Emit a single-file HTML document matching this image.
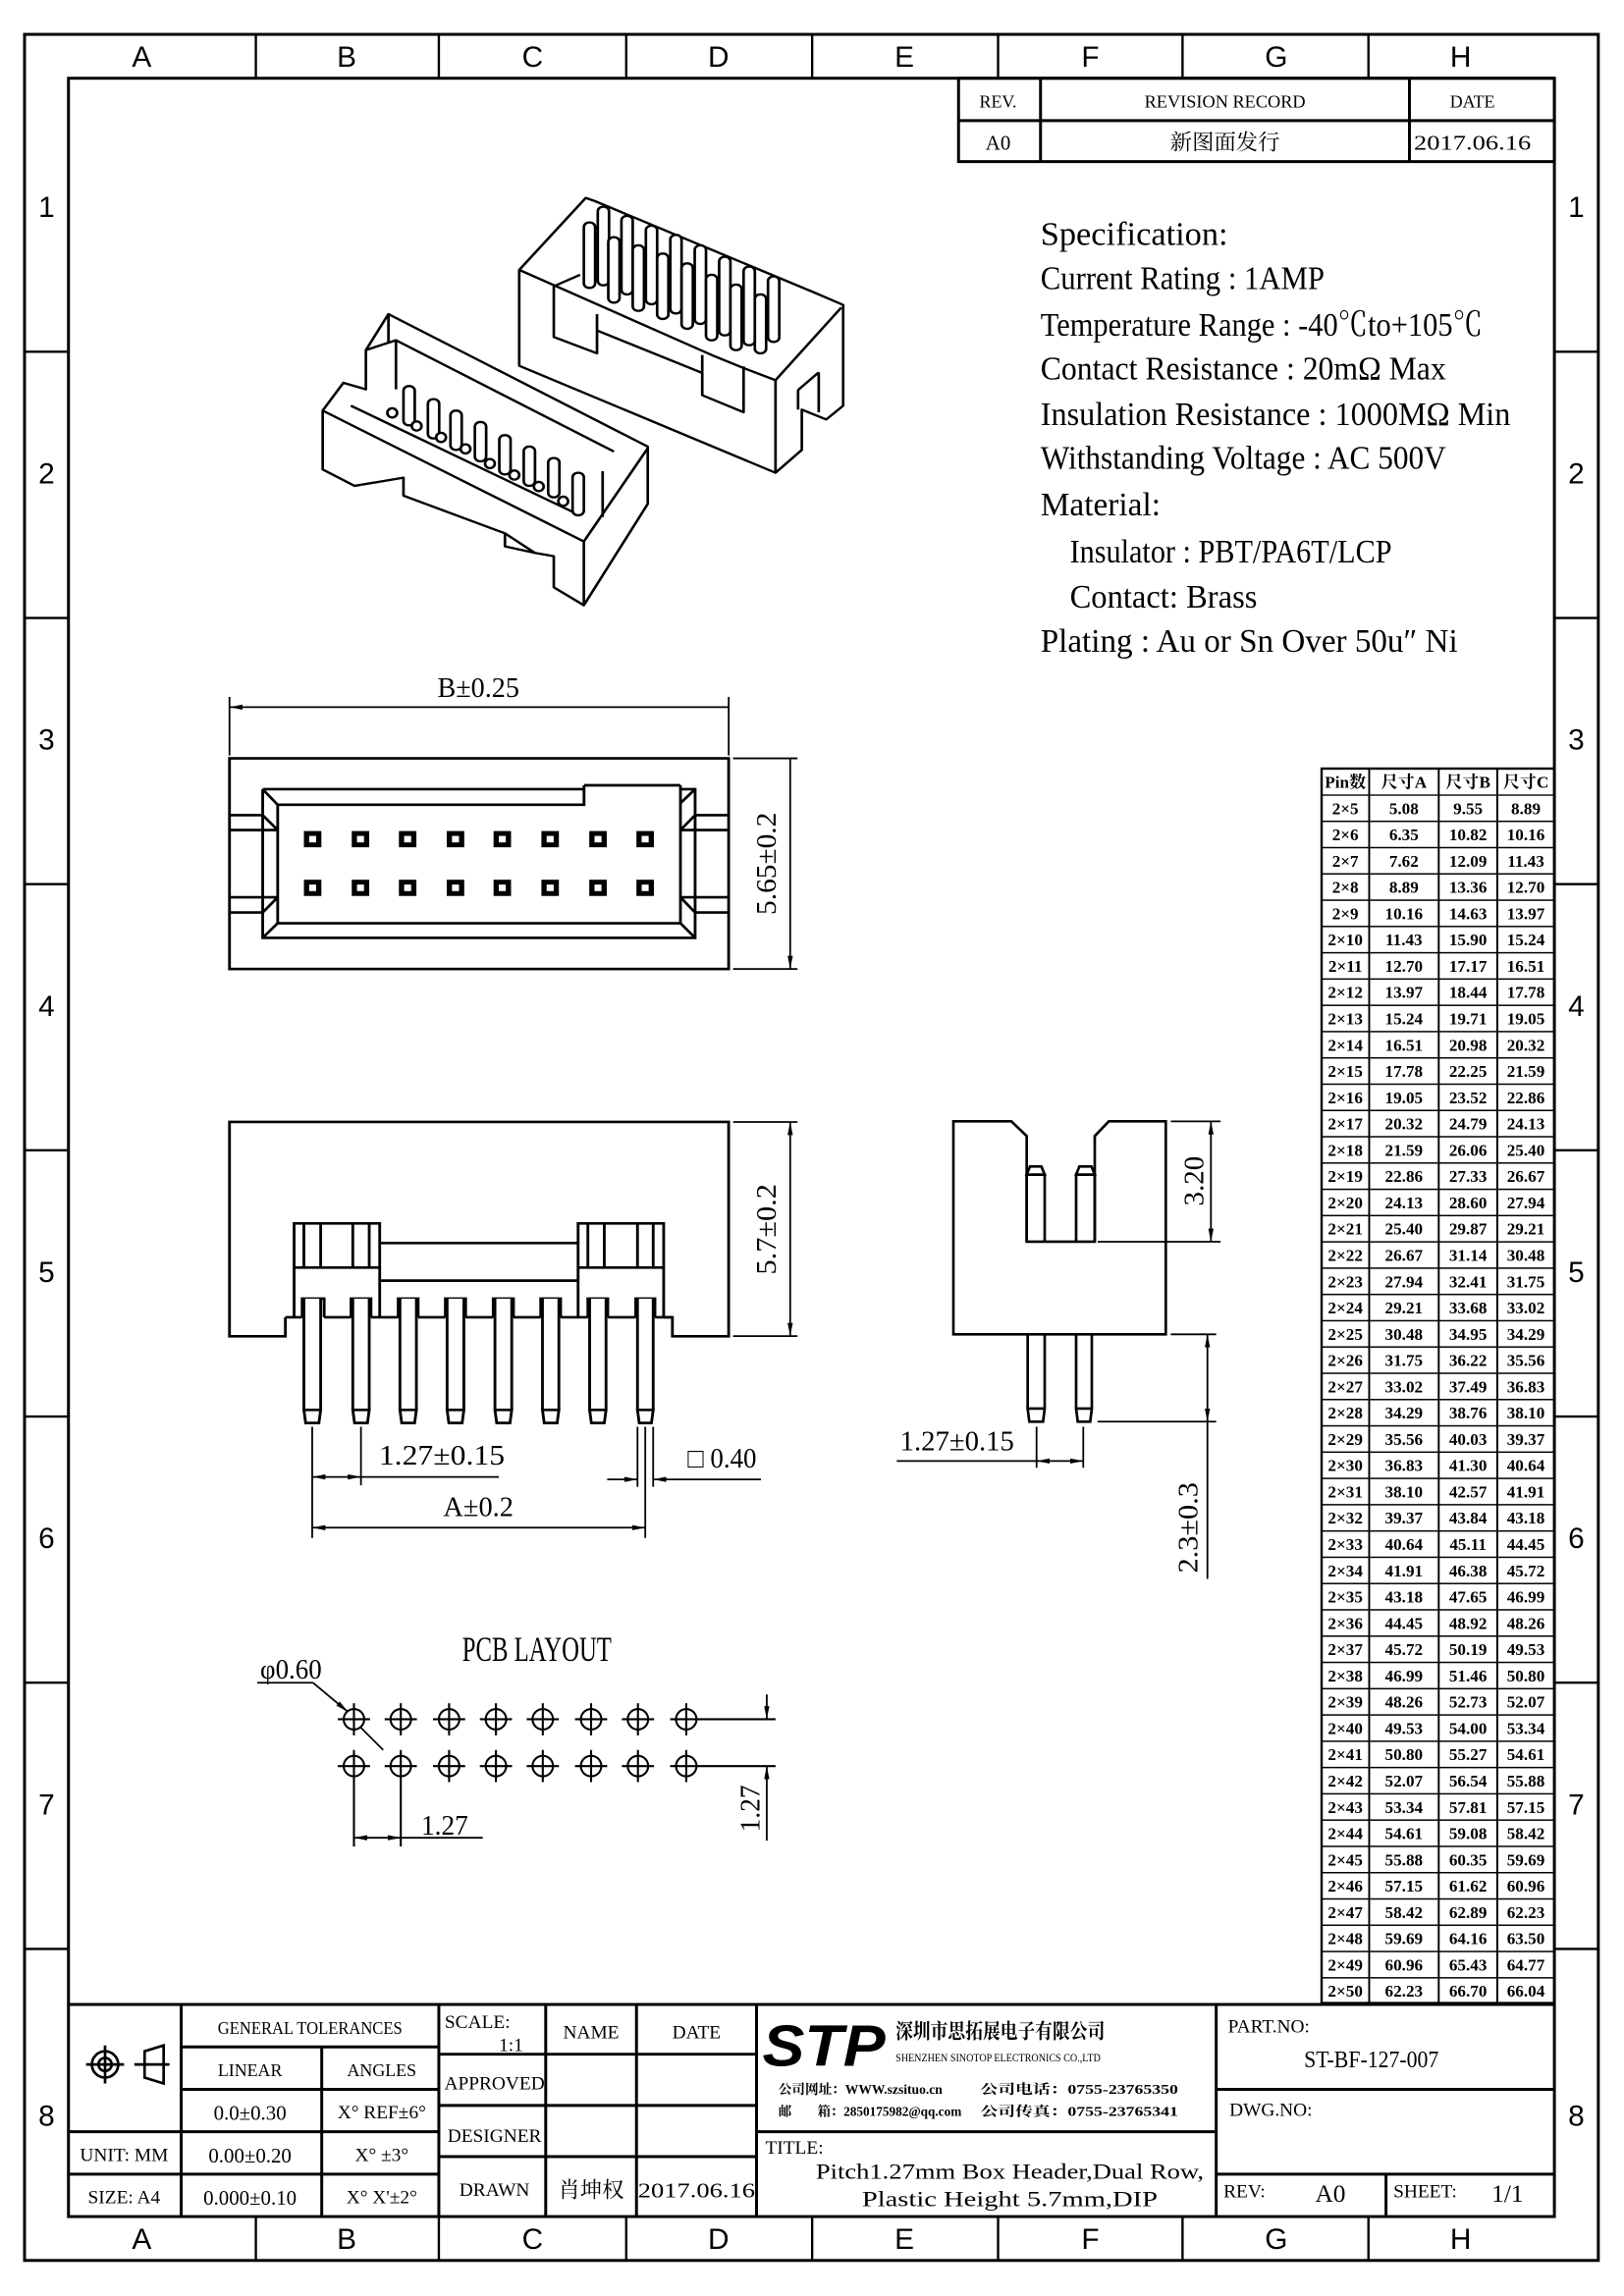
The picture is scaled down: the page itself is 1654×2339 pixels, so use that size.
<!DOCTYPE html>
<html><head><meta charset="utf-8"><style>
html,body{margin:0;padding:0;background:#fff}
svg{display:block}
text{font-family:"Liberation Serif","Noto Serif CJK SC",serif;fill:#000}
.s{font-family:"Liberation Sans","Noto Sans CJK SC",sans-serif}
.c{text-anchor:middle}
</style></head><body>
<svg width="1654" height="2339" viewBox="0 0 1654 2339" xmlns="http://www.w3.org/2000/svg">
<defs>
<marker id="a" viewBox="0 0 10 4" refX="10" refY="2" markerWidth="9" markerHeight="3.6" markerUnits="userSpaceOnUse" orient="auto-start-reverse"><path d="M0,0 L10,2 L0,4 z" fill="#000"/></marker>
<pattern id="rows" x="0" y="542.6" width="200" height="17.97" patternUnits="userSpaceOnUse"><rect x="0" y="0" width="200" height="1" fill="#000"/></pattern>
</defs>
<rect width="1654" height="2339" fill="#fff"/>
<g transform="translate(25 35) scale(1.491 1.49) translate(-17 -23)" fill="none" stroke="#000" stroke-width="1.2">
<!-- borders -->
<rect x="17" y="23" width="1075" height="1522" stroke-width="2"/>
<rect x="47" y="53" width="1015" height="1462" stroke-width="2"/>
<path stroke-width="1.6" d="M175 23V53M300 23V53M428 23V53M555 23V53M682 23V53M808 23V53M935 23V53
M175 1515V1545M300 1515V1545M428 1515V1545M555 1515V1545M682 1515V1545M808 1515V1545M935 1515V1545
M17 240H47M17 422H47M17 604H47M17 786H47M17 968H47M17 1150H47M17 1332H47
M1062 240H1092M1062 422H1092M1062 604H1092M1062 786H1092M1062 968H1092M1062 1150H1092M1062 1332H1092"/>
<g stroke="none" class="s" font-size="20">
<text class="c s" x="97" y="45">A</text><text class="c s" x="237" y="45">B</text><text class="c s" x="364" y="45">C</text><text class="c s" x="491" y="45">D</text><text class="c s" x="618" y="45">E</text><text class="c s" x="745" y="45">F</text><text class="c s" x="872" y="45">G</text><text class="c s" x="998" y="45">H</text>
<text class="c s" x="97" y="1537">A</text><text class="c s" x="237" y="1537">B</text><text class="c s" x="364" y="1537">C</text><text class="c s" x="491" y="1537">D</text><text class="c s" x="618" y="1537">E</text><text class="c s" x="745" y="1537">F</text><text class="c s" x="872" y="1537">G</text><text class="c s" x="998" y="1537">H</text>
<text class="c s" x="32" y="148">1</text><text class="c s" x="32" y="330">2</text><text class="c s" x="32" y="512">3</text><text class="c s" x="32" y="694">4</text><text class="c s" x="32" y="876">5</text><text class="c s" x="32" y="1058">6</text><text class="c s" x="32" y="1240">7</text><text class="c s" x="32" y="1453">8</text>
<text class="c s" x="1077" y="148">1</text><text class="c s" x="1077" y="330">2</text><text class="c s" x="1077" y="512">3</text><text class="c s" x="1077" y="694">4</text><text class="c s" x="1077" y="876">5</text><text class="c s" x="1077" y="1058">6</text><text class="c s" x="1077" y="1240">7</text><text class="c s" x="1077" y="1453">8</text>
</g>

<!-- revision table -->
<rect x="655" y="53" width="407" height="57" stroke-width="2"/>
<path stroke-width="2" d="M655 82H1062M711 53V110M963 53V110"/>
<g stroke="none" font-size="12">
<text class="c" x="682" y="73">REV.</text><text class="c" x="837" y="73" textLength="110" lengthAdjust="spacingAndGlyphs">REVISION RECORD</text><text class="c" x="1006" y="73">DATE</text>
<text class="c" x="682" y="102" font-size="14">A0</text><text class="c" x="837" y="102" font-size="15">新图面发行</text><text class="c" x="1006" y="102" font-size="14" textLength="80" lengthAdjust="spacingAndGlyphs">2017.06.16</text>
</g>

<!-- spec -->
<g stroke="none" font-size="23">
<text x="711" y="167" textLength="128" lengthAdjust="spacingAndGlyphs">Specification:</text>
<text x="711" y="197" textLength="194" lengthAdjust="spacingAndGlyphs">Current Rating : 1AMP</text>
<text x="711" y="229" textLength="302" lengthAdjust="spacingAndGlyphs">Temperature Range : -40℃to+105℃</text>
<text x="711" y="259" textLength="277" lengthAdjust="spacingAndGlyphs">Contact Resistance : 20mΩ Max</text>
<text x="711" y="290" textLength="321" lengthAdjust="spacingAndGlyphs">Insulation Resistance : 1000MΩ Min</text>
<text x="711" y="320" textLength="277" lengthAdjust="spacingAndGlyphs">Withstanding Voltage : AC 500V</text>
<text x="711" y="352" textLength="82" lengthAdjust="spacingAndGlyphs">Material:</text>
<text x="731" y="384" textLength="220" lengthAdjust="spacingAndGlyphs">Insulator : PBT/PA6T/LCP</text>
<text x="731" y="415" textLength="128" lengthAdjust="spacingAndGlyphs">Contact: Brass</text>
<text x="711" y="445" textLength="285" lengthAdjust="spacingAndGlyphs">Plating : Au or Sn Over 50u″ Ni</text>
</g>

<!-- 3D upper connector -->
<g transform="translate(201.4 120.3) scale(0.2567 0.2237)" stroke-width="7" stroke-linejoin="round">
<polygon fill="#fff" points="598,285 775,65 800,75 1385,355 1460,392 1460,700 1415,742 1350,712 1350,835 1280,905 598,578"/>
<path d="M598 285L1110 545M1195 585L1280 622M1280 622V905M1280 622L1455 400M1340 652L1395 598M1340 652V712M1395 598V720M690 335V490L805 540V420M1085 545V668L1195 720V580M805 470L1085 600M690 335L760 300M1110 545L1195 585"/>
<g fill="#fff">
<rect x="807" y="92" width="30" height="240" rx="14"/><rect x="870" y="120" width="30" height="240" rx="14"/><rect x="935" y="150" width="30" height="240" rx="14"/><rect x="1000" y="178" width="30" height="240" rx="14"/><rect x="1065" y="210" width="30" height="240" rx="14"/><rect x="1130" y="245" width="30" height="240" rx="14"/><rect x="1195" y="275" width="30" height="240" rx="14"/><rect x="1260" y="305" width="30" height="200" rx="14"/>
<rect x="770" y="140" width="30" height="200" rx="14"/><rect x="835" y="185" width="30" height="200" rx="14"/><rect x="900" y="210" width="30" height="200" rx="14"/><rect x="965" y="235" width="30" height="200" rx="14"/><rect x="1030" y="265" width="30" height="200" rx="14"/><rect x="1095" y="300" width="30" height="200" rx="14"/><rect x="1160" y="330" width="30" height="200" rx="14"/><rect x="1225" y="360" width="30" height="180" rx="14"/>
</g>
</g>
<!-- 3D lower connector -->
<g transform="translate(201.4 120.3) scale(0.2567 0.2237)" stroke-width="7" stroke-linejoin="round">
<polygon fill="#fff" points="75,715 130,630 190,650 190,530 250,420 940,825 940,1000 770,1310 690,1255 690,1160 640,1150 560,1090 290,975 290,920 160,945 75,895"/>
<path d="M75 715L770 1115M770 1115V1310M770 1115L940 830M150 700L750 1030M270 500L850 840M190 530L270 500V650M250 420V510M820 1040V900M560 1090V1130L640 1150"/>
<g fill="#fff">
<rect x="290" y="640" width="30" height="120" rx="14"/><rect x="355" y="680" width="30" height="120" rx="14"/><rect x="415" y="715" width="30" height="120" rx="14"/><rect x="480" y="750" width="30" height="120" rx="14"/><rect x="545" y="790" width="30" height="120" rx="14"/><rect x="610" y="825" width="30" height="120" rx="14"/><rect x="675" y="860" width="30" height="120" rx="14"/><rect x="740" y="905" width="30" height="130" rx="14"/>
<ellipse cx="260" cy="722" rx="13" ry="14"/><ellipse cx="325" cy="762" rx="13" ry="14"/><ellipse cx="390" cy="797" rx="13" ry="14"/><ellipse cx="455" cy="832" rx="13" ry="14"/><ellipse cx="520" cy="877" rx="13" ry="14"/><ellipse cx="585" cy="912" rx="13" ry="14"/><ellipse cx="650" cy="947" rx="13" ry="14"/><ellipse cx="715" cy="992" rx="13" ry="14"/>
</g>
</g>

<!-- top view -->
<g transform="translate(148.17 509.79) scale(0.2386 0.2219)" stroke-width="8">
<rect x="37" y="37" width="1429" height="649"/>
<path d="M132 132H1052M1052 120H1328M1328 132H1370V590H132V132M175 180H1052V120M1328 120V545H175V180M132 132L175 180M132 590L175 545M1370 132L1328 175M1370 590L1328 545
M37 212H132L175 258M37 258H175M37 465H175M37 512H132L175 465M1466 212H1370L1328 258M1466 258H1328M1466 465H1328M1466 512H1370L1328 465"/>
<g stroke="none">
<g fill="#000">
<rect x="250" y="261" width="50" height="50"/><rect x="387" y="261" width="50" height="50"/><rect x="522" y="261" width="50" height="50"/><rect x="659" y="261" width="50" height="50"/><rect x="793" y="261" width="50" height="50"/><rect x="930" y="261" width="50" height="50"/><rect x="1067" y="261" width="50" height="50"/><rect x="1202" y="261" width="50" height="50"/>
<rect x="250" y="411" width="50" height="50"/><rect x="387" y="411" width="50" height="50"/><rect x="522" y="411" width="50" height="50"/><rect x="659" y="411" width="50" height="50"/><rect x="793" y="411" width="50" height="50"/><rect x="930" y="411" width="50" height="50"/><rect x="1067" y="411" width="50" height="50"/><rect x="1202" y="411" width="50" height="50"/>
</g>
<g fill="#fff">
<rect x="265" y="276" width="20" height="20"/><rect x="402" y="276" width="20" height="20"/><rect x="537" y="276" width="20" height="20"/><rect x="674" y="276" width="20" height="20"/><rect x="808" y="276" width="20" height="20"/><rect x="945" y="276" width="20" height="20"/><rect x="1082" y="276" width="20" height="20"/><rect x="1217" y="276" width="20" height="20"/>
<rect x="265" y="426" width="20" height="20"/><rect x="402" y="426" width="20" height="20"/><rect x="537" y="426" width="20" height="20"/><rect x="674" y="426" width="20" height="20"/><rect x="808" y="426" width="20" height="20"/><rect x="945" y="426" width="20" height="20"/><rect x="1082" y="426" width="20" height="20"/><rect x="1217" y="426" width="20" height="20"/>
</g>
</g>
</g>
<!-- top view dims -->
<path d="M157 476V516M498 476V516M501 518H545M501 662H545"/>
<path d="M157 483H498M540 518V662" marker-start="url(#a)" marker-end="url(#a)"/>
<g stroke="none" font-size="19">
<text class="c" x="327" y="476" textLength="56" lengthAdjust="spacingAndGlyphs">B±0.25</text>
<text class="c" transform="translate(530 590) rotate(-90)" textLength="70" lengthAdjust="spacingAndGlyphs">5.65±0.2</text>
</g>

<!-- side view -->
<g transform="translate(148.17 752.06) scale(0.2386 0.2237)" stroke-width="8" stroke-linejoin="miter">
<path d="M197 662V720H37V65H1466V720H1305V662H1280"/>
<path d="M222 662V375H467V662M222 510H467M250 375V510M298 375V510M390 375V510M437 375V510
M1035 662V375H1280V662M1035 510H1280M1063 375V510M1110 375V510M1205 375V510M1250 375V510
M467 435H1035M467 550H1035
M197 662H245M308 662H385M442 662H520M577 662H655M713 662H792M850 662H928M985 662H1063M1120 662H1200M1255 662H1305"/>
<g fill="#fff">
<path d="M245 662V605H308V662M385 662V605H442V662M520 662V605H577V662M655 662V605H713V662M792 662V605H850V662M928 662V605H985V662M1063 662V605H1120V662M1200 662V605H1255V662"/>
<path d="M250 605V945H298V605M255 985H293L298 945H250Z"/>
<path d="M390 605V945H437V605M395 985H432L437 945H390Z"/>
<path d="M525 605V945H572V605M530 985H567L572 945H525Z"/>
<path d="M660 605V945H708V605M665 985H703L708 945H660Z"/>
<path d="M797 605V945H845V605M802 985H840L845 945H797Z"/>
<path d="M933 605V945H980V605M938 985H975L980 945H933Z"/>
<path d="M1068 605V945H1115V605M1073 985H1110L1115 945H1068Z"/>
<path d="M1205 605V945H1250V605M1210 985H1245L1250 945H1205Z"/>
</g>
</g>
<!-- side view dims -->
<path d="M213.5 975V1015M246.8 975V1015M213.5 975V1051M441 975V1051M435.7 975V1016M446.4 975V1016M501 766.6H545M501 913H545"/>
<path d="M246.8 1009.3H341"/>
<path d="M213.5 1009.3H246.8" marker-start="url(#a)" marker-end="url(#a)"/>
<path d="M213.5 1044H441" marker-start="url(#a)" marker-end="url(#a)"/>
<path d="M415 1011H435.7" marker-end="url(#a)"/><path d="M446.4 1011H520" marker-start="url(#a)"/>
<path d="M540 766.6V913" marker-start="url(#a)" marker-end="url(#a)"/>
<g stroke="none" font-size="19">
<text x="259" y="1001" textLength="86" lengthAdjust="spacingAndGlyphs">1.27±0.15</text>
<text class="c" x="327" y="1036" textLength="48" lengthAdjust="spacingAndGlyphs">A±0.2</text>
<text x="470" y="1003" textLength="47" lengthAdjust="spacingAndGlyphs">□ 0.40</text>
<text class="c" transform="translate(530 840) rotate(-90)" textLength="62" lengthAdjust="spacingAndGlyphs">5.7±0.2</text>
</g>

<!-- right side view -->
<g transform="translate(603.85 751.17) scale(0.22356 0.2237)" stroke-width="8">
<path d="M213 67H390L437 112V435H645V112L688 67H862V718H213Z"/>
<path d="M437 435V230H492V435M447 205H482L492 230H437Z M588 435V230H645V435M598 205H635L645 230H588Z"/>
<path d="M440 718V945H492V718M445 985H487L492 945H440Z M588 718V945H636V718M593 985H631L636 945H588Z"/>
</g>
<path d="M800 766.2H834M750 848.5H834M800 911.8H831M750 971.5H831M708.3 975V1003M740.2 975V1003"/>
<path d="M827.4 766.2V848.5" marker-start="url(#a)" marker-end="url(#a)"/>
<path d="M825 911.8V971.5" marker-start="url(#a)" marker-end="url(#a)"/><path d="M825 971.5V1079"/>
<path d="M612.8 998.4H708.3"/><path d="M708.3 998.4H740.2" marker-start="url(#a)" marker-end="url(#a)"/>
<g stroke="none" font-size="19">
<text class="c" transform="translate(822 807) rotate(-90)" textLength="34" lengthAdjust="spacingAndGlyphs">3.20</text>
<text class="c" transform="translate(818 1044) rotate(-90)" textLength="62" lengthAdjust="spacingAndGlyphs">2.3±0.3</text>
<text x="615" y="991" textLength="78" lengthAdjust="spacingAndGlyphs">1.27±0.15</text>
</g>

<!-- PCB layout -->
<text x="316" y="1135" stroke="none" font-size="24" textLength="102" lengthAdjust="spacingAndGlyphs">PCB LAYOUT</text>
<g stroke-width="1.4">
<circle cx="242" cy="1175" r="7"/><circle cx="274" cy="1175" r="7"/><circle cx="307" cy="1175" r="7"/><circle cx="339" cy="1175" r="7"/><circle cx="371" cy="1175" r="7"/><circle cx="404" cy="1175" r="7"/><circle cx="436" cy="1175" r="7"/><circle cx="469" cy="1175" r="7"/>
<circle cx="242" cy="1207" r="7"/><circle cx="274" cy="1207" r="7"/><circle cx="307" cy="1207" r="7"/><circle cx="339" cy="1207" r="7"/><circle cx="371" cy="1207" r="7"/><circle cx="404" cy="1207" r="7"/><circle cx="436" cy="1207" r="7"/><circle cx="469" cy="1207" r="7"/>
<path d="M231 1175H253M263 1175H285M296 1175H318M328 1175H350M360 1175H382M393 1175H415M425 1175H447M458 1175H530
M231 1207H253M263 1207H285M296 1207H318M328 1207H350M360 1207H382M393 1207H415M425 1207H447M458 1207H530
M242 1164V1186M274 1164V1186M307 1164V1186M339 1164V1186M371 1164V1186M404 1164V1186M436 1164V1186M469 1164V1186
M242 1196V1262M274 1196V1262M307 1196V1218M339 1196V1218M371 1196V1218M404 1196V1218M436 1196V1218M469 1196V1218"/>
</g>
<path d="M524 1158V1175" marker-end="url(#a)"/><path d="M524 1207V1258" marker-start="url(#a)"/>
<path d="M242 1256H274" marker-start="url(#a)" marker-end="url(#a)"/><path d="M274 1256H330"/>
<path d="M214 1150L238 1170" marker-end="url(#a)"/><path d="M246 1180L262 1196"/><path d="M176 1150H214"/>
<g stroke="none" font-size="19">
<text x="178" y="1147" textLength="42" lengthAdjust="spacingAndGlyphs">φ0.60</text>
<text x="288" y="1254" textLength="32" lengthAdjust="spacingAndGlyphs">1.27</text>
<text class="c" transform="translate(519 1236) rotate(-90)" textLength="32" lengthAdjust="spacingAndGlyphs">1.27</text>
</g>

<!-- dimension table -->
<rect x="903" y="525" width="159" height="844" stroke-width="1.6"/>
<rect x="903" y="542.6" width="159" height="826.6" fill="url(#rows)" stroke="none"/>
<path d="M935.5 525V1369M983 525V1369M1023 525V1369" stroke-width="1.3"/>
<g stroke="none" font-size="11.5" font-weight="bold" text-anchor="middle">
<text y="538"><tspan x="919.2">Pin数</tspan><tspan x="959.2">尺寸A</tspan><tspan x="1003">尺寸B</tspan><tspan x="1042.5">尺寸C</tspan></text>
<text y="556.1"><tspan x="919.2">2×5</tspan><tspan x="959.2">5.08</tspan><tspan x="1003">9.55</tspan><tspan x="1042.5">8.89</tspan></text>
<text y="574.07"><tspan x="919.2">2×6</tspan><tspan x="959.2">6.35</tspan><tspan x="1003">10.82</tspan><tspan x="1042.5">10.16</tspan></text>
<text y="592.04"><tspan x="919.2">2×7</tspan><tspan x="959.2">7.62</tspan><tspan x="1003">12.09</tspan><tspan x="1042.5">11.43</tspan></text>
<text y="610.01"><tspan x="919.2">2×8</tspan><tspan x="959.2">8.89</tspan><tspan x="1003">13.36</tspan><tspan x="1042.5">12.70</tspan></text>
<text y="627.98"><tspan x="919.2">2×9</tspan><tspan x="959.2">10.16</tspan><tspan x="1003">14.63</tspan><tspan x="1042.5">13.97</tspan></text>
<text y="645.95"><tspan x="919.2">2×10</tspan><tspan x="959.2">11.43</tspan><tspan x="1003">15.90</tspan><tspan x="1042.5">15.24</tspan></text>
<text y="663.92"><tspan x="919.2">2×11</tspan><tspan x="959.2">12.70</tspan><tspan x="1003">17.17</tspan><tspan x="1042.5">16.51</tspan></text>
<text y="681.89"><tspan x="919.2">2×12</tspan><tspan x="959.2">13.97</tspan><tspan x="1003">18.44</tspan><tspan x="1042.5">17.78</tspan></text>
<text y="699.86"><tspan x="919.2">2×13</tspan><tspan x="959.2">15.24</tspan><tspan x="1003">19.71</tspan><tspan x="1042.5">19.05</tspan></text>
<text y="717.83"><tspan x="919.2">2×14</tspan><tspan x="959.2">16.51</tspan><tspan x="1003">20.98</tspan><tspan x="1042.5">20.32</tspan></text>
<text y="735.8"><tspan x="919.2">2×15</tspan><tspan x="959.2">17.78</tspan><tspan x="1003">22.25</tspan><tspan x="1042.5">21.59</tspan></text>
<text y="753.77"><tspan x="919.2">2×16</tspan><tspan x="959.2">19.05</tspan><tspan x="1003">23.52</tspan><tspan x="1042.5">22.86</tspan></text>
<text y="771.74"><tspan x="919.2">2×17</tspan><tspan x="959.2">20.32</tspan><tspan x="1003">24.79</tspan><tspan x="1042.5">24.13</tspan></text>
<text y="789.71"><tspan x="919.2">2×18</tspan><tspan x="959.2">21.59</tspan><tspan x="1003">26.06</tspan><tspan x="1042.5">25.40</tspan></text>
<text y="807.68"><tspan x="919.2">2×19</tspan><tspan x="959.2">22.86</tspan><tspan x="1003">27.33</tspan><tspan x="1042.5">26.67</tspan></text>
<text y="825.65"><tspan x="919.2">2×20</tspan><tspan x="959.2">24.13</tspan><tspan x="1003">28.60</tspan><tspan x="1042.5">27.94</tspan></text>
<text y="843.62"><tspan x="919.2">2×21</tspan><tspan x="959.2">25.40</tspan><tspan x="1003">29.87</tspan><tspan x="1042.5">29.21</tspan></text>
<text y="861.59"><tspan x="919.2">2×22</tspan><tspan x="959.2">26.67</tspan><tspan x="1003">31.14</tspan><tspan x="1042.5">30.48</tspan></text>
<text y="879.56"><tspan x="919.2">2×23</tspan><tspan x="959.2">27.94</tspan><tspan x="1003">32.41</tspan><tspan x="1042.5">31.75</tspan></text>
<text y="897.53"><tspan x="919.2">2×24</tspan><tspan x="959.2">29.21</tspan><tspan x="1003">33.68</tspan><tspan x="1042.5">33.02</tspan></text>
<text y="915.5"><tspan x="919.2">2×25</tspan><tspan x="959.2">30.48</tspan><tspan x="1003">34.95</tspan><tspan x="1042.5">34.29</tspan></text>
<text y="933.47"><tspan x="919.2">2×26</tspan><tspan x="959.2">31.75</tspan><tspan x="1003">36.22</tspan><tspan x="1042.5">35.56</tspan></text>
<text y="951.44"><tspan x="919.2">2×27</tspan><tspan x="959.2">33.02</tspan><tspan x="1003">37.49</tspan><tspan x="1042.5">36.83</tspan></text>
<text y="969.41"><tspan x="919.2">2×28</tspan><tspan x="959.2">34.29</tspan><tspan x="1003">38.76</tspan><tspan x="1042.5">38.10</tspan></text>
<text y="987.38"><tspan x="919.2">2×29</tspan><tspan x="959.2">35.56</tspan><tspan x="1003">40.03</tspan><tspan x="1042.5">39.37</tspan></text>
<text y="1005.35"><tspan x="919.2">2×30</tspan><tspan x="959.2">36.83</tspan><tspan x="1003">41.30</tspan><tspan x="1042.5">40.64</tspan></text>
<text y="1023.32"><tspan x="919.2">2×31</tspan><tspan x="959.2">38.10</tspan><tspan x="1003">42.57</tspan><tspan x="1042.5">41.91</tspan></text>
<text y="1041.29"><tspan x="919.2">2×32</tspan><tspan x="959.2">39.37</tspan><tspan x="1003">43.84</tspan><tspan x="1042.5">43.18</tspan></text>
<text y="1059.26"><tspan x="919.2">2×33</tspan><tspan x="959.2">40.64</tspan><tspan x="1003">45.11</tspan><tspan x="1042.5">44.45</tspan></text>
<text y="1077.23"><tspan x="919.2">2×34</tspan><tspan x="959.2">41.91</tspan><tspan x="1003">46.38</tspan><tspan x="1042.5">45.72</tspan></text>
<text y="1095.2"><tspan x="919.2">2×35</tspan><tspan x="959.2">43.18</tspan><tspan x="1003">47.65</tspan><tspan x="1042.5">46.99</tspan></text>
<text y="1113.17"><tspan x="919.2">2×36</tspan><tspan x="959.2">44.45</tspan><tspan x="1003">48.92</tspan><tspan x="1042.5">48.26</tspan></text>
<text y="1131.14"><tspan x="919.2">2×37</tspan><tspan x="959.2">45.72</tspan><tspan x="1003">50.19</tspan><tspan x="1042.5">49.53</tspan></text>
<text y="1149.11"><tspan x="919.2">2×38</tspan><tspan x="959.2">46.99</tspan><tspan x="1003">51.46</tspan><tspan x="1042.5">50.80</tspan></text>
<text y="1167.08"><tspan x="919.2">2×39</tspan><tspan x="959.2">48.26</tspan><tspan x="1003">52.73</tspan><tspan x="1042.5">52.07</tspan></text>
<text y="1185.05"><tspan x="919.2">2×40</tspan><tspan x="959.2">49.53</tspan><tspan x="1003">54.00</tspan><tspan x="1042.5">53.34</tspan></text>
<text y="1203.02"><tspan x="919.2">2×41</tspan><tspan x="959.2">50.80</tspan><tspan x="1003">55.27</tspan><tspan x="1042.5">54.61</tspan></text>
<text y="1220.99"><tspan x="919.2">2×42</tspan><tspan x="959.2">52.07</tspan><tspan x="1003">56.54</tspan><tspan x="1042.5">55.88</tspan></text>
<text y="1238.96"><tspan x="919.2">2×43</tspan><tspan x="959.2">53.34</tspan><tspan x="1003">57.81</tspan><tspan x="1042.5">57.15</tspan></text>
<text y="1256.93"><tspan x="919.2">2×44</tspan><tspan x="959.2">54.61</tspan><tspan x="1003">59.08</tspan><tspan x="1042.5">58.42</tspan></text>
<text y="1274.9"><tspan x="919.2">2×45</tspan><tspan x="959.2">55.88</tspan><tspan x="1003">60.35</tspan><tspan x="1042.5">59.69</tspan></text>
<text y="1292.87"><tspan x="919.2">2×46</tspan><tspan x="959.2">57.15</tspan><tspan x="1003">61.62</tspan><tspan x="1042.5">60.96</tspan></text>
<text y="1310.84"><tspan x="919.2">2×47</tspan><tspan x="959.2">58.42</tspan><tspan x="1003">62.89</tspan><tspan x="1042.5">62.23</tspan></text>
<text y="1328.81"><tspan x="919.2">2×48</tspan><tspan x="959.2">59.69</tspan><tspan x="1003">64.16</tspan><tspan x="1042.5">63.50</tspan></text>
<text y="1346.78"><tspan x="919.2">2×49</tspan><tspan x="959.2">60.96</tspan><tspan x="1003">65.43</tspan><tspan x="1042.5">64.77</tspan></text>
<text y="1364.75"><tspan x="919.2">2×50</tspan><tspan x="959.2">62.23</tspan><tspan x="1003">66.70</tspan><tspan x="1042.5">66.04</tspan></text>
</g>

<!-- title block -->
<path stroke-width="2" d="M47 1370H1062M124 1370V1515M300 1370V1515M517 1370V1515M831 1370V1515
M47 1457H300M47 1486H300M124 1399H300M124 1428H300M220 1399V1515
M373 1370V1515M435 1370V1515M300 1404H517M300 1439H517M300 1474H517
M517 1457H831M831 1428H1062M831 1486H1062M947 1486V1515"/>
<g stroke-width="1.8">
<circle cx="72" cy="1411" r="9"/><circle cx="72" cy="1411" r="4.5"/><path d="M59 1411H85M72 1398V1424M92 1411H116M99 1402L112 1398V1424L99 1420Z"/>
</g>
<g stroke="none" font-size="12">
<text class="c" x="212" y="1390" textLength="126" lengthAdjust="spacingAndGlyphs">GENERAL TOLERANCES</text>
<text class="c" x="171" y="1419">LINEAR</text><text class="c" x="261" y="1419">ANGLES</text>
<text class="c" x="171" y="1449" font-size="14">0.0±0.30</text><text class="c" x="261" y="1448" font-size="13">X° REF±6°</text>
<text class="c" x="85" y="1477" font-size="13">UNIT: MM</text><text class="c" x="171" y="1478" font-size="14">0.00±0.20</text><text class="c" x="261" y="1477" font-size="13">X° ±3°</text>
<text class="c" x="85" y="1506" font-size="13">SIZE: A4</text><text class="c" x="171" y="1507" font-size="14">0.000±0.10</text><text class="c" x="261" y="1506" font-size="13">X° X'±2°</text>
<text x="304" y="1386" font-size="13">SCALE:</text><text x="341" y="1402" font-size="13">1:1</text>
<text class="c" x="404" y="1393" font-size="13">NAME</text><text class="c" x="476" y="1393" font-size="13">DATE</text>
<text class="c" x="338" y="1428" font-size="13">APPROVED</text><text class="c" x="338" y="1464" font-size="13">DESIGNER</text><text class="c" x="338" y="1501" font-size="13">DRAWN</text>
<text class="c" x="404" y="1502" font-size="15">肖坤权</text><text class="c" x="476" y="1502" font-size="14" textLength="80" lengthAdjust="spacingAndGlyphs">2017.06.16</text>
<text x="521" y="1412" font-size="40" font-weight="bold" font-style="italic" fill="#2b8fe6" class="s" textLength="84" lengthAdjust="spacingAndGlyphs">STP</text>
<text x="612" y="1393" font-size="14" font-weight="bold" textLength="143" lengthAdjust="spacingAndGlyphs">深圳市思拓展电子有限公司</text>
<text x="612" y="1409" font-size="8" textLength="140" lengthAdjust="spacingAndGlyphs">SHENZHEN SINOTOP ELECTRONICS CO.,LTD</text>
<text x="532" y="1431" font-size="9" font-weight="bold" textLength="112" lengthAdjust="spacingAndGlyphs">公司网址：WWW.szsituo.cn</text>
<text x="532" y="1446" font-size="9" font-weight="bold" textLength="125" lengthAdjust="spacingAndGlyphs">邮　　箱：2850175982@qq.com</text>
<text x="670" y="1431" font-size="9" font-weight="bold" textLength="135" lengthAdjust="spacingAndGlyphs">公司电话：0755-23765350</text>
<text x="670" y="1446" font-size="9" font-weight="bold" textLength="135" lengthAdjust="spacingAndGlyphs">公司传真：0755-23765341</text>
<text x="523" y="1472" font-size="13">TITLE:</text>
<text class="c" x="690" y="1489" font-size="15" textLength="265" lengthAdjust="spacingAndGlyphs">Pitch1.27mm Box Header,Dual Row,</text>
<text class="c" x="690" y="1508" font-size="15" textLength="202" lengthAdjust="spacingAndGlyphs">Plastic Height 5.7mm,DIP</text>
<text x="839" y="1389" font-size="13">PART.NO:</text>
<text class="c" x="937" y="1413" font-size="16" textLength="92" lengthAdjust="spacingAndGlyphs">ST-BF-127-007</text>
<text x="840" y="1446" font-size="13">DWG.NO:</text>
<text x="836" y="1502" font-size="13">REV:</text><text class="c" x="909" y="1505" font-size="17">A0</text>
<text x="952" y="1502" font-size="13">SHEET:</text><text class="c" x="1030" y="1505" font-size="17">1/1</text>
</g>
</g>
</svg>
</body></html>
